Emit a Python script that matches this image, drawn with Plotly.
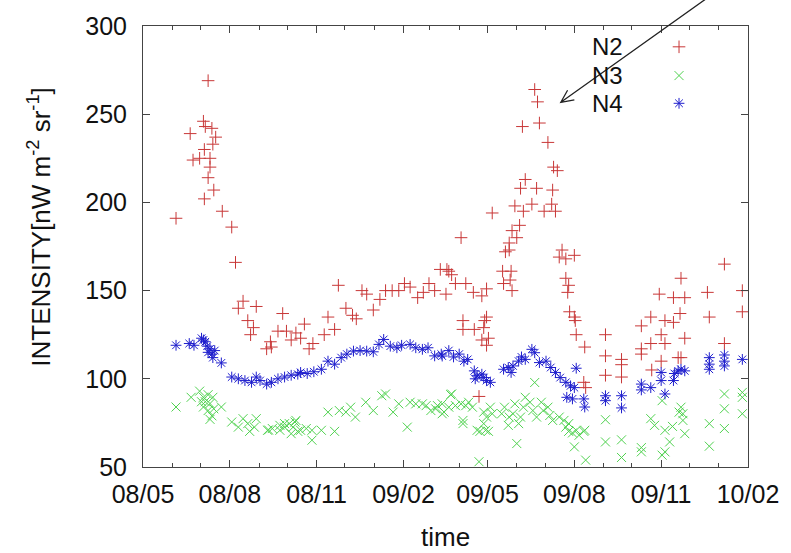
import plotly.graph_objects as go

# ---------------- data ----------------
n2_dates = [
    "2008-06-05", "2008-06-20", "2008-06-23", "2008-06-30", "2008-07-04", "2008-07-06", "2008-07-05",
    "2008-07-05", "2008-07-09", "2008-07-09", "2008-07-11", "2008-07-11", "2008-07-13", "2008-07-14",
    "2008-07-15", "2008-07-17", "2008-07-24", "2008-08-03", "2008-08-07", "2008-08-10", "2008-08-15",
    "2008-08-20", "2008-08-23", "2008-08-26", "2008-08-29", "2008-09-09", "2008-09-13", "2008-09-14",
    "2008-09-21", "2008-09-26", "2008-09-30", "2008-10-05", "2008-10-10", "2008-10-15", "2008-10-19",
    "2008-10-24", "2008-10-28", "2008-11-09", "2008-11-13", "2008-11-20", "2008-11-24", "2008-12-02",
    "2008-12-09", "2008-12-13", "2008-12-19", "2008-12-24", "2008-12-31", "2009-01-07", "2009-01-13",
    "2009-01-20", "2009-01-27", "2009-02-02", "2009-02-08", "2009-02-16", "2009-02-22", "2009-02-28",
    "2009-03-06", "2009-03-12", "2009-03-18", "2009-03-19", "2009-03-21", "2009-03-24", "2009-03-28",
    "2009-04-03", "2009-04-05", "2009-04-05", "2009-04-08", "2009-04-16", "2009-04-17", "2009-04-22",
    "2009-04-25", "2009-04-25", "2009-04-27", "2009-04-28", "2009-04-30", "2009-04-30", "2009-04-30",
    "2009-05-02", "2009-05-06", "2009-05-17", "2009-05-18", "2009-05-20", "2009-05-24", "2009-05-24",
    "2009-05-25", "2009-05-26", "2009-05-27", "2009-05-27", "2009-05-30", "2009-06-01", "2009-06-04",
    "2009-06-05", "2009-06-07", "2009-06-08", "2009-06-10", "2009-06-17", "2009-06-20", "2009-06-22",
    "2009-06-23", "2009-06-25", "2009-06-30", "2009-07-04", "2009-07-08", "2009-07-09", "2009-07-10",
    "2009-07-12", "2009-07-14", "2009-07-16", "2009-07-19", "2009-07-23", "2009-07-23", "2009-07-25",
    "2009-07-26", "2009-07-27", "2009-08-01", "2009-08-01", "2009-08-02", "2009-08-03", "2009-08-11",
    "2009-08-12", "2009-08-13", "2009-09-03", "2009-09-03", "2009-09-03", "2009-09-20", "2009-09-20",
    "2009-09-20", "2009-10-11", "2009-10-11", "2009-10-11", "2009-10-21", "2009-10-21", "2009-10-22",
    "2009-10-30", "2009-11-01", "2009-11-01", "2009-11-05", "2009-11-05", "2009-11-14", "2009-11-14",
    "2009-11-19", "2009-11-21", "2009-11-22", "2009-11-22", "2009-11-26", "2009-11-26", "2009-12-20",
    "2009-12-22", "2010-01-07", "2010-01-07", "2010-01-26", "2010-01-26",
]
n2_values = [
    191, 239, 224, 225, 246, 243, 230,
    202, 269, 214, 225, 220, 242, 233,
    207, 237, 195, 186, 166, 140, 144,
    133, 125, 129, 141, 117, 121, 118,
    127, 137, 127, 122, 126, 123, 131,
    117, 120, 125, 135, 128, 153, 140,
    136, 134, 150, 148, 139, 145, 150,
    150, 150, 154, 152, 146, 149, 154,
    150, 162, 148, 162, 161, 159, 154,
    180, 133, 128, 154, 149, 128, 90,
    147, 122, 129, 133, 119, 151, 135,
    123, 194, 161, 154, 172, 173, 177,
    156, 161, 150, 184, 198, 180, 187,
    208, 243, 195, 213, 199, 264, 208,
    257, 245, 195, 234, 199, 207, 220,
    195, 218, 169, 173, 168, 157, 149,
    153, 138, 170, 135, 133, 125, 98,
    118, 95, 125, 113, 102, 111, 108,
    101, 130, 117, 114, 135, 120, 105,
    148, 125, 110, 133, 120, 146, 132,
    112, 137, 157, 112, 146, 123, 149,
    135, 165, 120, 150, 138,
]

n3_dates = [
    "2008-06-05", "2008-06-21", "2008-06-30", "2008-07-02", "2008-07-04", "2008-07-04", "2008-07-06",
    "2008-07-09", "2008-07-09", "2008-07-11", "2008-07-11", "2008-07-13", "2008-07-14", "2008-07-15",
    "2008-07-23", "2008-08-03", "2008-08-10", "2008-08-15", "2008-08-20", "2008-08-22", "2008-08-27",
    "2008-08-29", "2008-09-10", "2008-09-11", "2008-09-15", "2008-09-23", "2008-09-23", "2008-09-28",
    "2008-09-28", "2008-10-03", "2008-10-05", "2008-10-07", "2008-10-09", "2008-10-10", "2008-10-12",
    "2008-10-15", "2008-10-21", "2008-10-27", "2008-10-27", "2008-11-06", "2008-11-13", "2008-11-20",
    "2008-11-25", "2008-12-02", "2008-12-07", "2008-12-12", "2008-12-23", "2008-12-31", "2009-01-09",
    "2009-01-13", "2009-01-21", "2009-01-27", "2009-02-05", "2009-02-08", "2009-02-14", "2009-02-21",
    "2009-02-25", "2009-03-02", "2009-03-07", "2009-03-09", "2009-03-14", "2009-03-14", "2009-03-16",
    "2009-03-21", "2009-03-23", "2009-03-24", "2009-03-28", "2009-04-03", "2009-04-05", "2009-04-05",
    "2009-04-08", "2009-04-11", "2009-04-15", "2009-04-20", "2009-04-22", "2009-04-23", "2009-04-27",
    "2009-04-27", "2009-04-29", "2009-04-30", "2009-05-02", "2009-05-04", "2009-05-06", "2009-05-16",
    "2009-05-19", "2009-05-23", "2009-05-24", "2009-05-28", "2009-05-30", "2009-06-01", "2009-06-03",
    "2009-06-05", "2009-06-08", "2009-06-10", "2009-06-15", "2009-06-18", "2009-06-20", "2009-06-22",
    "2009-06-27", "2009-06-29", "2009-07-04", "2009-07-06", "2009-07-09", "2009-07-16", "2009-07-21",
    "2009-07-23", "2009-07-26", "2009-07-26", "2009-07-30", "2009-08-01", "2009-08-03", "2009-08-06",
    "2009-08-11", "2009-08-12", "2009-08-13", "2009-09-03", "2009-09-03", "2009-09-20", "2009-09-20",
    "2009-10-11", "2009-10-11", "2009-10-21", "2009-10-25", "2009-11-02", "2009-11-02", "2009-11-05",
    "2009-11-05", "2009-11-10", "2009-11-13", "2009-11-20", "2009-11-22", "2009-11-24", "2009-11-24",
    "2009-11-26", "2009-12-22", "2009-12-22", "2010-01-07", "2010-01-07", "2010-01-07", "2010-01-26",
    "2010-01-26", "2010-01-26",
]
n3_values = [
    84, 89.5, 93, 87, 89.5, 84, 87,
    91, 82, 86, 77, 79, 89.5, 83,
    84, 75.5, 72.6, 77.4, 74.6, 70.2, 72.6,
    77.4, 70.8, 71, 71.8, 73.6, 70.8, 74.6,
    72.6, 74.6, 68.9, 72.6, 75.5, 76.4, 70.2,
    70.8, 71.8, 70.8, 65.2, 70.8, 81.1, 70.2,
    82, 81.1, 83.9, 78.3, 86.7, 82, 90.4,
    91.4, 81.1, 85.8, 72.6, 86.7, 85.8, 85.8,
    84.8, 82, 83, 84.8, 85.8, 80.2, 81.1,
    83.9, 91, 91.4, 84.8, 85.8, 76.4, 74.6,
    84.8, 86.7, 83.9, 70.8, 53, 70.2, 74.6,
    81.1, 70.8, 78.3, 70.2, 83.9, 80.2, 80.2,
    83.9, 73.6, 78.3, 80.2, 85.8, 63.3, 74.6,
    78.3, 83.9, 89.5, 86.7, 82, 97.9, 78.3,
    86.7, 82, 83.9, 79.2, 76.4, 78.3, 76.4,
    72.6, 70.2, 74.6, 69.3, 61.4, 70.8, 68,
    70.2, 70.8, 53.9, 76.8, 64.2, 65.4, 55.4,
    61, 58.6, 77.4, 73.6, 87.6, 56.7, 70.8,
    58.6, 64.2, 73, 81.1, 83.9, 76.4, 80.2,
    68.9, 74.6, 61.8, 91.4, 83, 71.8, 92.3,
    89.5, 80.2,
]

n4_dates = [
    "2008-06-05", "2008-06-19", "2008-06-24", "2008-07-02", "2008-07-04", "2008-07-06", "2008-07-08",
    "2008-07-09", "2008-07-11", "2008-07-13", "2008-07-14", "2008-07-16", "2008-07-23", "2008-08-03",
    "2008-08-10", "2008-08-17", "2008-08-24", "2008-08-29", "2008-09-02", "2008-09-09", "2008-09-14",
    "2008-09-21", "2008-09-28", "2008-10-05", "2008-10-12", "2008-10-15", "2008-10-22", "2008-10-29",
    "2008-11-06", "2008-11-13", "2008-11-20", "2008-11-27", "2008-12-03", "2008-12-10", "2008-12-17",
    "2008-12-24", "2008-12-31", "2009-01-06", "2009-01-11", "2009-01-18", "2009-01-25", "2009-01-30",
    "2009-02-08", "2009-02-14", "2009-02-21", "2009-02-27", "2009-03-06", "2009-03-13", "2009-03-14",
    "2009-03-21", "2009-03-26", "2009-04-01", "2009-04-06", "2009-04-10", "2009-04-17", "2009-04-18",
    "2009-04-20", "2009-04-25", "2009-04-27", "2009-04-30", "2009-05-04", "2009-05-18", "2009-05-23",
    "2009-05-26", "2009-05-28", "2009-06-03", "2009-06-06", "2009-06-10", "2009-06-17", "2009-06-20",
    "2009-06-25", "2009-07-02", "2009-07-07", "2009-07-12", "2009-07-17", "2009-07-23", "2009-07-24",
    "2009-07-28", "2009-07-30", "2009-08-01", "2009-08-03", "2009-08-11", "2009-08-12", "2009-09-03",
    "2009-09-03", "2009-09-20", "2009-09-20", "2009-10-11", "2009-10-11", "2009-10-21", "2009-11-01",
    "2009-11-01", "2009-11-05", "2009-11-14", "2009-11-15", "2009-11-19", "2009-11-22", "2009-11-26",
    "2009-12-22", "2009-12-22", "2009-12-22", "2010-01-07", "2010-01-07", "2010-01-07", "2010-01-26",
]
n4_values = [
    119, 120, 119, 123, 122, 121, 118.5,
    115, 117, 114, 112, 116, 109, 101,
    100, 99, 98, 101, 99, 97, 98,
    100, 101, 102, 102.6, 103.6, 103, 104,
    105.4, 110, 108.3, 112, 114, 115.7, 116,
    115.7, 115.3, 119.5, 122.3, 118.5, 117.6, 119,
    119.5, 117.6, 116.7, 117.6, 113, 114, 112.9,
    116, 112.4, 114, 110, 111, 104.5, 100,
    101.7, 102.6, 100.7, 99, 98, 105.4, 106.4,
    103.6, 107.3, 110, 112.4, 111, 116.7, 114.8,
    109.2, 110, 106.4, 103.6, 100.7, 98, 89.5,
    96, 88.6, 95, 106, 88.6, 84, 90.4,
    87.6, 90.4, 83.5, 97, 93.7, 95, 103.6,
    99, 91.4, 99, 103, 104.5, 105.4, 104.5,
    112, 108.3, 105.4, 113.5, 110, 107.3, 111,
]

series_names = ["N2", "N3", "N4"]
series_colors = ["rgb(200,55,55)", "rgb(80,210,80)", "rgb(30,30,205)"]
series_symbols = ["cross-thin", "x-thin", "asterisk"]

y_ticks = [50, 100, 150, 200, 250, 300]

FONT = "Liberation Sans, Arial, Helvetica, sans-serif"

# ---------------- figure ----------------
fig = go.Figure()
for name, xs, ys, col, sym in zip(series_names,
                                  [n2_dates, n3_dates, n4_dates],
                                  [n2_values, n3_values, n4_values],
                                  series_colors, series_symbols):
    fig.add_trace(go.Scatter(
        x=xs, y=ys, mode="markers", name=name,
        marker=dict(symbol=sym, size=9, color=col,
                    line=dict(width=1, color=col)),
        showlegend=False,
    ))

# legend keys (gnuplot style: label on the left, sample on the right)
legend_y = [0.9528, 0.8876, 0.8247]
fig.add_trace(go.Scatter(
    x=[0.886, 0.886, 0.886], y=legend_y,
    xaxis="x2", yaxis="y2", mode="markers", showlegend=False,
    hoverinfo="skip", cliponaxis=False,
    marker=dict(symbol=series_symbols, size=9, color=series_colors,
                line=dict(width=1, color=series_colors)),
))

annotations = []
for name, yy in zip(series_names, legend_y):
    annotations.append(dict(
        text=name, x=0.7964, y=yy, xref="paper", yref="paper",
        xanchor="right", yanchor="middle", showarrow=False,
        font=dict(family=FONT, size=24, color="#111"),
    ))

annotations.append(dict(
    text="INTENSITY[nW m<sup>-2</sup> sr<sup>-1</sup>]",
    x=-0.171, y=0.544, xref="paper", yref="paper", textangle=-90,
    xanchor="center", yanchor="middle", showarrow=False,
    font=dict(family=FONT, size=26, color="#111"),
))
annotations.append(dict(
    text="time", x=0.5, y=-0.158, xref="paper", yref="paper",
    xanchor="center", yanchor="middle", showarrow=False,
    font=dict(family=FONT, size=26, color="#111"),
))

# arrow with open head
shapes = [dict(
    type="path", xref="paper", yref="paper",
    path="M 0.9642 1.0944 L 0.6906 0.8270 M 0.7130 0.8326 L 0.6906 0.8270 L 0.7018 0.8544",
    line=dict(color="#222", width=1.3),
)]

axis_common = dict(
    showline=True, linecolor="#444", linewidth=1, mirror="allticks",
    ticks="inside", tickcolor="#444", showgrid=False, zeroline=False,
    tickfont=dict(family=FONT, size=25, color="#111"),
)

fig.update_layout(
    width=791, height=553,
    margin=dict(l=143, r=34, t=22, b=86),
    paper_bgcolor="white", plot_bgcolor="white",
    showlegend=False,
    xaxis=dict(
        type="date", range=["2008-05-01", "2010-02-01"],
        tick0="2008-05-01", dtick="M3", tickformat="%y/%m",
        ticklen=7, ticklabelstandoff=5,
        minor=dict(dtick="M1", ticks="inside", ticklen=4, tickcolor="#444", showgrid=False),
        **axis_common,
    ),
    yaxis=dict(
        range=[50, 300], tickvals=y_ticks, ticklen=7, ticklabelstandoff=10,
        **axis_common,
    ),
    xaxis2=dict(overlaying="x", range=[0, 1], visible=False),
    yaxis2=dict(overlaying="y", range=[0, 1], visible=False),
    annotations=annotations,
    shapes=shapes,
)

fig.write_html("out.html")
